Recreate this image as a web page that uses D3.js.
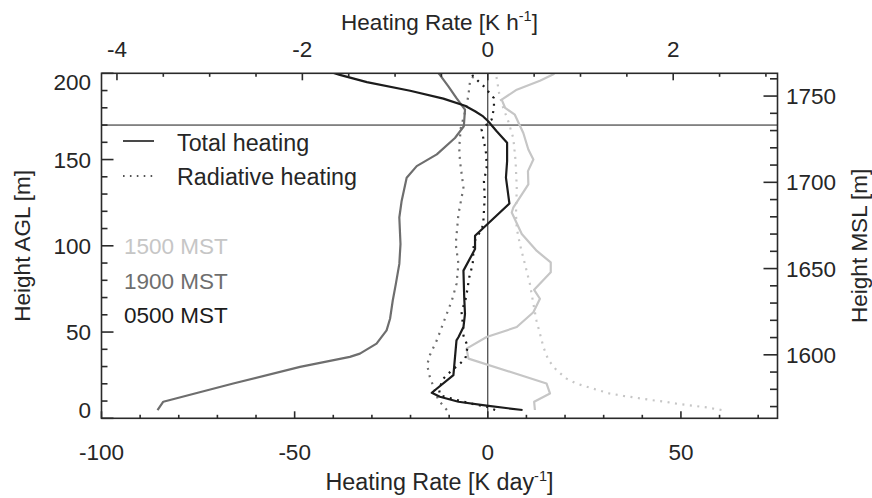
<!DOCTYPE html>
<html>
<head>
<meta charset="utf-8">
<script src="https://cdn.jsdelivr.net/npm/d3@7/dist/d3.min.js"></script>
<style>
  html, body { margin: 0; padding: 0; background: #fff; }
  svg text { font-family: "Liberation Sans", Arial, Helvetica, sans-serif; fill: #262626; }
</style>
</head>
<body>
<svg id="chart" width="872" height="498"></svg>
<script>
// Heating-rate profiles: [heating rate (K/day), height AGL (m)]
const total0500 = [[9.0,4.8],[-0.3,7.3],[-7.6,9.6],[-12.4,12.5],[-14.5,14.8],[-8.9,25],[-8.1,45.2],[-7.6,47],[-6.3,52.9],[-5.9,60.5],[-6.1,70],[-6.3,85.6],[-3.3,98.1],[-3.3,105.8],[5.6,124.5],[4.7,139.5],[5.0,149],[5.0,159.7],[4.0,162.2],[2.3,166.4],[0.1,172.2],[-1.2,175],[-3.3,178],[-5.9,181.2],[-11.5,185.3],[-20.1,189.9],[-31.3,194.9],[-38.3,199.1],[-40.5,200.6]];
const rad0500 = [[1.9,4.8],[-0.3,6.7],[-3.7,8.2],[-8.9,11.1],[-12.4,13.4],[-12.6,17],[-11.5,23],[-10.2,26],[-7.2,31.7],[-5.8,34.6],[-5.2,41.7],[-6.3,48],[-6.4,53.8],[-6.8,61.5],[-5.6,70.2],[-4.8,81.7],[-3.9,89.5],[-3.6,102],[-2.5,106],[-1.2,112],[-1.0,120],[-0.8,127.9],[-1.0,137.5],[-0.3,145.2],[-0.4,153],[-1.0,160.6],[-1.6,167.4],[1.0,173.2],[1.6,179.9],[1.6,185.6],[-1.0,192.4],[-3.7,198],[-4.5,200.6]];
const total1900 = [[-85.5,4.8],[-84.0,9.6],[-65.9,20.2],[-48.6,29.8],[-35.7,35.6],[-33.1,37.5],[-28.8,43.3],[-26.2,51],[-25.3,57.7],[-24.6,68.3],[-23.8,77.9],[-22.9,89.5],[-22.6,101],[-22.9,116.4],[-22.3,126],[-21.0,139.5],[-18.4,146.2],[-13.2,153],[-8.5,162.5],[-6.2,169.3],[-5.9,178.9],[-8.1,185.6],[-10.2,192.4],[-12.4,199.1],[-13.0,200.6]];
const rad1900 = [[-10.6,4.8],[-12.8,10.6],[-15.0,24],[-15.7,30.8],[-15.0,36.6],[-13.2,45.2],[-11.1,57.7],[-9.3,68.3],[-8.1,77.9],[-7.6,89.5],[-8.3,101],[-7.6,118.3],[-6.3,133.7],[-7.2,149.1],[-7.4,156.8],[-7.0,168.3],[-5.6,179.9],[-5.0,187.6],[-4.6,195.3],[-3.3,199.6]];
const total1500 = [[12.2,4.8],[12.0,9.6],[16.1,14.4],[15.2,20.2],[-5.0,34.6],[-5.5,40.4],[-0.3,47.1],[7.5,52.9],[11.8,61.5],[13.5,69.3],[12.0,74.5],[16.3,84.6],[16.3,90.4],[12.7,97],[8.8,106.8],[6.2,119.3],[6.6,122.1],[10.5,135.6],[10.4,143.3],[11.8,150],[10.5,155.8],[9.2,165.4],[7.0,176],[4.5,179.9],[3.6,184.7],[7.5,190.5],[13.5,195.7],[17.0,199.5],[17.5,200.6]];
const rad1500 = [[60.5,4.8],[56.7,6.3],[53.2,7.3],[49.3,8.3],[45.9,9.6],[42.2,10.6],[38.5,11.9],[35.1,13],[31.5,14.4],[28.0,16.7],[24.3,19.2],[22.6,20.5],[20.4,23],[17.8,27.9],[15.7,33.7],[14.4,41.3],[13.5,49.1],[12.6,56.7],[11.8,66.4],[10.9,77.9],[9.6,89.5],[8.3,101],[7.5,110],[7.3,118.3],[7.5,133.7],[7.2,149.1],[6.6,162.5],[5.3,172.2],[4.0,179.9],[3.0,187.6],[2.3,197.2],[2.0,200.6]];

// Axis ticks
const xTicksMajor = [-100, -50, 0, 50];
const xTopTicksMajor = [-4, -2, 0, 2];
const yTicksMajor = [0, 50, 100, 150, 200];
const yMslTicksMajor = [1600, 1650, 1700, 1750];
const siteElevation = 1563.2;   // MSL height of ground level (m)
const inversionHeight = 170;    // AGL reference height (m)

const legendTimes = ["1500 MST", "1900 MST", "0500 MST"];
const timeColors = { "1500 MST": "#c6c6c6", "1900 MST": "#6e6e6e", "0500 MST": "#1c1c1c" };

const series = [
  { time: "1500 MST", kind: "rad", data: rad1500 },
  { time: "1500 MST", kind: "total", data: total1500 },
  { time: "1900 MST", kind: "rad", data: rad1900 },
  { time: "1900 MST", kind: "total", data: total1900 },
  { time: "0500 MST", kind: "rad", data: rad0500 },
  { time: "0500 MST", kind: "total", data: total0500 }
];

const L = 101.5, R = 777.5, T = 73.3, B = 418.3;
const FS = 22.5;      // numbers
const FSW = 23.3;     // words

const svg = d3.select("#chart");
const x = d3.scaleLinear().domain([-100, 75]).range([L, R]);
const xTop = d3.scaleLinear().domain([-100 / 24, 75 / 24]).range([L, R]);
const y = d3.scaleLinear().domain([0, 200]).range([B, T]);
const yMsl = d3.scaleLinear().domain([siteElevation, siteElevation + 200]).range([B, T]);

svg.append("defs").append("clipPath").attr("id", "plotclip")
  .append("rect").attr("x", L).attr("y", T).attr("width", R - L).attr("height", B - T);

const plot = svg.append("g").attr("clip-path", "url(#plotclip)");

// Zero line and inversion-height line
plot.append("line").attr("x1", x(0)).attr("x2", x(0)).attr("y1", B).attr("y2", T)
  .attr("stroke", "#1a1a1a").attr("stroke-width", 1);
plot.append("line").attr("x1", L).attr("x2", R).attr("y1", y(inversionHeight)).attr("y2", y(inversionHeight))
  .attr("stroke", "#1a1a1a").attr("stroke-width", 1);

const line = d3.line().x(d => x(d[0])).y(d => y(d[1]));
series.forEach(s => {
  plot.append("path").attr("d", line(s.data))
    .attr("fill", "none")
    .attr("stroke", timeColors[s.time])
    .attr("stroke-width", 2.2)
    .attr("stroke-dasharray", s.kind === "rad" ? "2,5.5" : null)
    .attr("stroke-linejoin", "round");
});

// Frame
const axisColor = "#2a2a2a";
svg.append("rect").attr("x", L).attr("y", T).attr("width", R - L).attr("height", B - T)
  .attr("fill", "none").attr("stroke", axisColor).attr("stroke-width", 1.6);

// Inward ticks
const ticks = svg.append("g").attr("stroke", axisColor).attr("stroke-width", 1.6);
d3.range(-100, 76, 10).forEach(v => {
  const len = xTicksMajor.includes(v) ? 7 : 3.5;
  ticks.append("line").attr("x1", x(v)).attr("x2", x(v)).attr("y1", B).attr("y2", B - len);
});
d3.range(-4, 3.01, 0.5).forEach(v => {
  const len = xTopTicksMajor.includes(v) ? 7 : 3.5;
  ticks.append("line").attr("x1", xTop(v)).attr("x2", xTop(v)).attr("y1", T).attr("y2", T + len);
});
d3.range(0, 201, 10).forEach(v => {
  const len = yTicksMajor.includes(v) ? 12 : 6;
  ticks.append("line").attr("x1", L).attr("x2", L + len).attr("y1", y(v)).attr("y2", y(v));
});
d3.range(1570, 1761, 10).forEach(v => {
  const len = yMslTicksMajor.includes(v) ? 14 : 7.5;
  ticks.append("line").attr("x1", R).attr("x2", R - len).attr("y1", yMsl(v)).attr("y2", yMsl(v));
});

// Tick labels
const lab = svg.append("g").attr("font-size", FS);
xTicksMajor.forEach(v => {
  lab.append("text").attr("x", x(v)).attr("y", 460).attr("text-anchor", "middle").text(v);
});
xTopTicksMajor.forEach(v => {
  lab.append("text").attr("x", xTop(v)).attr("y", 57).attr("text-anchor", "middle").text(v);
});
yTicksMajor.forEach(v => {
  let yy = y(v);
  if (v === 200) yy += 9;
  if (v === 0) yy -= 8;
  lab.append("text").attr("x", 91).attr("y", yy + 8).attr("text-anchor", "end").text(v);
});
yMslTicksMajor.forEach(v => {
  lab.append("text").attr("x", 786).attr("y", yMsl(v) + 8).attr("text-anchor", "start").text(v);
});

// Axis titles
function titleWithSup(g, main, sup, tail) {
  g.append("tspan").text(main);
  g.append("tspan").attr("font-size", 14.5).attr("dy", -9).text(sup);
  g.append("tspan").attr("dy", 9).text(tail);
}
titleWithSup(svg.append("text").attr("x", (L + R) / 2).attr("y", 490)
  .attr("text-anchor", "middle").attr("font-size", FSW), "Heating Rate [K day", "-1", "]");
titleWithSup(svg.append("text").attr("x", (L + R) / 2).attr("y", 30)
  .attr("text-anchor", "middle").attr("font-size", FS), "Heating Rate [K h", "-1", "]");
svg.append("text").attr("transform", `translate(30,${(T + B) / 2}) rotate(-90)`)
  .attr("text-anchor", "middle").attr("font-size", FS).text("Height AGL [m]");
svg.append("text").attr("transform", `translate(867,${(T + B) / 2}) rotate(-90)`)
  .attr("text-anchor", "middle").attr("font-size", FS).text("Height MSL [m]");

// Line-style legend
const leg = svg.append("g");
leg.append("line").attr("x1", 123).attr("x2", 154).attr("y1", 141).attr("y2", 141)
  .attr("stroke", "#1c1c1c").attr("stroke-width", 1.6);
leg.append("text").attr("x", 177).attr("y", 150.5).attr("font-size", FSW).text("Total heating");
leg.append("line").attr("x1", 123).attr("x2", 154).attr("y1", 176).attr("y2", 176)
  .attr("stroke", "#1c1c1c").attr("stroke-width", 1.6).attr("stroke-dasharray", "1.6,5.3");
leg.append("text").attr("x", 177).attr("y", 185).attr("font-size", FSW).text("Radiative heating");

// Time legend
legendTimes.forEach((t, i) => {
  svg.append("text").attr("x", 124).attr("y", 254 + i * 34.7).attr("font-size", FS)
    .style("fill", timeColors[t]).text(t);
});
</script>
</body>
</html>
